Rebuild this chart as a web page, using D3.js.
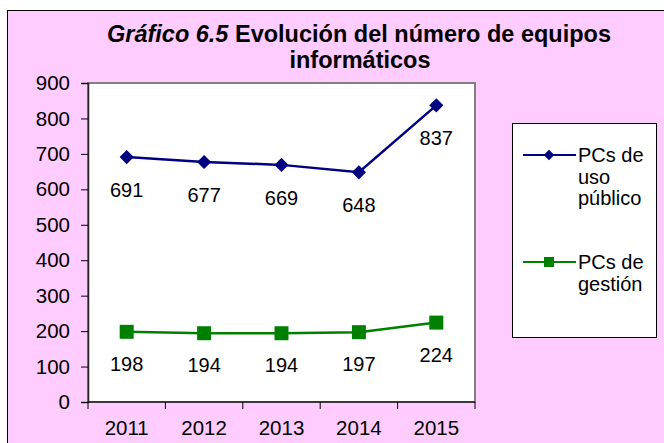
<!DOCTYPE html>
<html>
<head>
<meta charset="utf-8">
<script src="https://cdn.jsdelivr.net/npm/d3@7"></script>
<style>
  body { margin: 0; background: #fff; }
  text { font-family: "Liberation Sans", Arial, sans-serif; }
</style>
</head>
<body>
<div id="chart"></div>
<script>
const years = ["2011", "2012", "2013", "2014", "2015"];
const publicPCs = [691, 677, 669, 648, 837];
const managementPCs = [198, 194, 194, 197, 224];
const yTicks = [0, 100, 200, 300, 400, 500, 600, 700, 800, 900];

const width = 664;
const height = 443;
const plot = { left: 88, top: 83, right: 475, bottom: 402 };

const svg = d3.select("#chart")
  .append("svg")
  .attr("width", width)
  .attr("height", height);

// Outer chart area
svg.append("rect")
  .attr("x", 7.5).attr("y", 10.5)
  .attr("width", width + 10).attr("height", height + 10)
  .attr("fill", "#ffccff")
  .attr("stroke", "#000")
  .attr("stroke-width", 1);

// Title
const title = svg.append("text")
  .attr("x", 359).attr("y", 42)
  .attr("text-anchor", "middle")
  .attr("font-size", 23.5)
  .attr("font-weight", "bold");
title.append("tspan").attr("font-style", "italic").text("Gráfico 6.5");
title.append("tspan").text(" Evolución del número de equipos");
svg.append("text")
  .attr("x", 360).attr("y", 68)
  .attr("text-anchor", "middle")
  .attr("font-size", 23.5)
  .attr("font-weight", "bold")
  .text("informáticos");

const x = d3.scaleBand().domain(years).range([plot.left, plot.right]);
const y = d3.scaleLinear().domain([0, 900]).range([plot.bottom, plot.top]);

// Plot area
svg.append("rect")
  .attr("x", plot.left).attr("y", plot.top)
  .attr("width", plot.right - plot.left).attr("height", plot.bottom - plot.top)
  .attr("fill", "#fff")
  .attr("stroke", "#808080")
  .attr("stroke-width", 2);

// Axes
const yAxis = svg.append("g")
  .attr("transform", `translate(${plot.left},0)`)
  .call(d3.axisLeft(y).tickValues(yTicks).tickSize(7).tickPadding(11));
const xAxis = svg.append("g")
  .attr("transform", `translate(0,${plot.bottom})`)
  .call(d3.axisBottom(x).tickSize(0).tickPadding(18));
// ticks between categories
xAxis.selectAll(".between")
  .data(d3.range(years.length + 1))
  .enter().append("line")
  .attr("class", "between")
  .attr("x1", i => plot.left + i * x.step())
  .attr("x2", i => plot.left + i * x.step())
  .attr("y1", 0).attr("y2", 7)
  .attr("stroke", "#000");
[yAxis, xAxis].forEach(a => {
  a.select(".domain").attr("stroke", "#222").attr("stroke-width", 1.5);
  a.selectAll(".tick line").attr("stroke", "#000");
  a.selectAll("text").attr("font-size", 20.5).attr("fill", "#000")
    .style("font-family", "'Liberation Sans', Arial, sans-serif");
});
xAxis.select(".domain").attr("d", `M${plot.left},0H${plot.right}`);

const cx = (d, i) => x(years[i]) + x.bandwidth() / 2;
const line = d3.line().x(cx).y(d => y(d));

const series = [
  { name: ["PCs de", "uso", "público"], values: publicPCs, color: "#000080", rotate: 45, size: 100, legendSize: 55, labelDy: 40, legendY: 155 },
  { name: ["PCs de", "gestión"], values: managementPCs, color: "#008000", rotate: 0, size: 196, legendSize: 100, labelDy: 39, legendY: 262 }
];

series.forEach(s => {
  svg.append("path")
    .datum(s.values)
    .attr("d", line)
    .attr("fill", "none")
    .attr("stroke", s.color)
    .attr("stroke-width", 2.5);
  svg.selectAll(null)
    .data(s.values)
    .enter().append("path")
    .attr("d", d3.symbol().type(d3.symbolSquare).size(s.size))
    .attr("transform", (d, i) => `translate(${cx(d, i)},${y(d)}) rotate(${s.rotate})`)
    .attr("fill", s.color);
  svg.selectAll(null)
    .data(s.values)
    .enter().append("text")
    .attr("x", cx)
    .attr("y", d => y(d) + s.labelDy)
    .attr("text-anchor", "middle")
    .attr("font-size", 20)
    .text(d => d);
});

// Legend
svg.append("rect")
  .attr("x", 512.5).attr("y", 123.5)
  .attr("width", 144).attr("height", 214)
  .attr("fill", "#fff")
  .attr("stroke", "#000");

series.forEach(s => {
  svg.append("line")
    .attr("x1", 523).attr("x2", 576)
    .attr("y1", s.legendY).attr("y2", s.legendY)
    .attr("stroke", s.color).attr("stroke-width", 2);
  svg.append("path")
    .attr("d", d3.symbol().type(d3.symbolSquare).size(s.legendSize))
    .attr("transform", `translate(549,${s.legendY}) rotate(${s.rotate})`)
    .attr("fill", s.color);
  s.name.forEach((t, i) => {
    svg.append("text")
      .attr("x", 578)
      .attr("y", s.legendY + 7 + i * 21.5)
      .attr("font-size", 20)
      .text(t);
  });
});
</script>
</body>
</html>
